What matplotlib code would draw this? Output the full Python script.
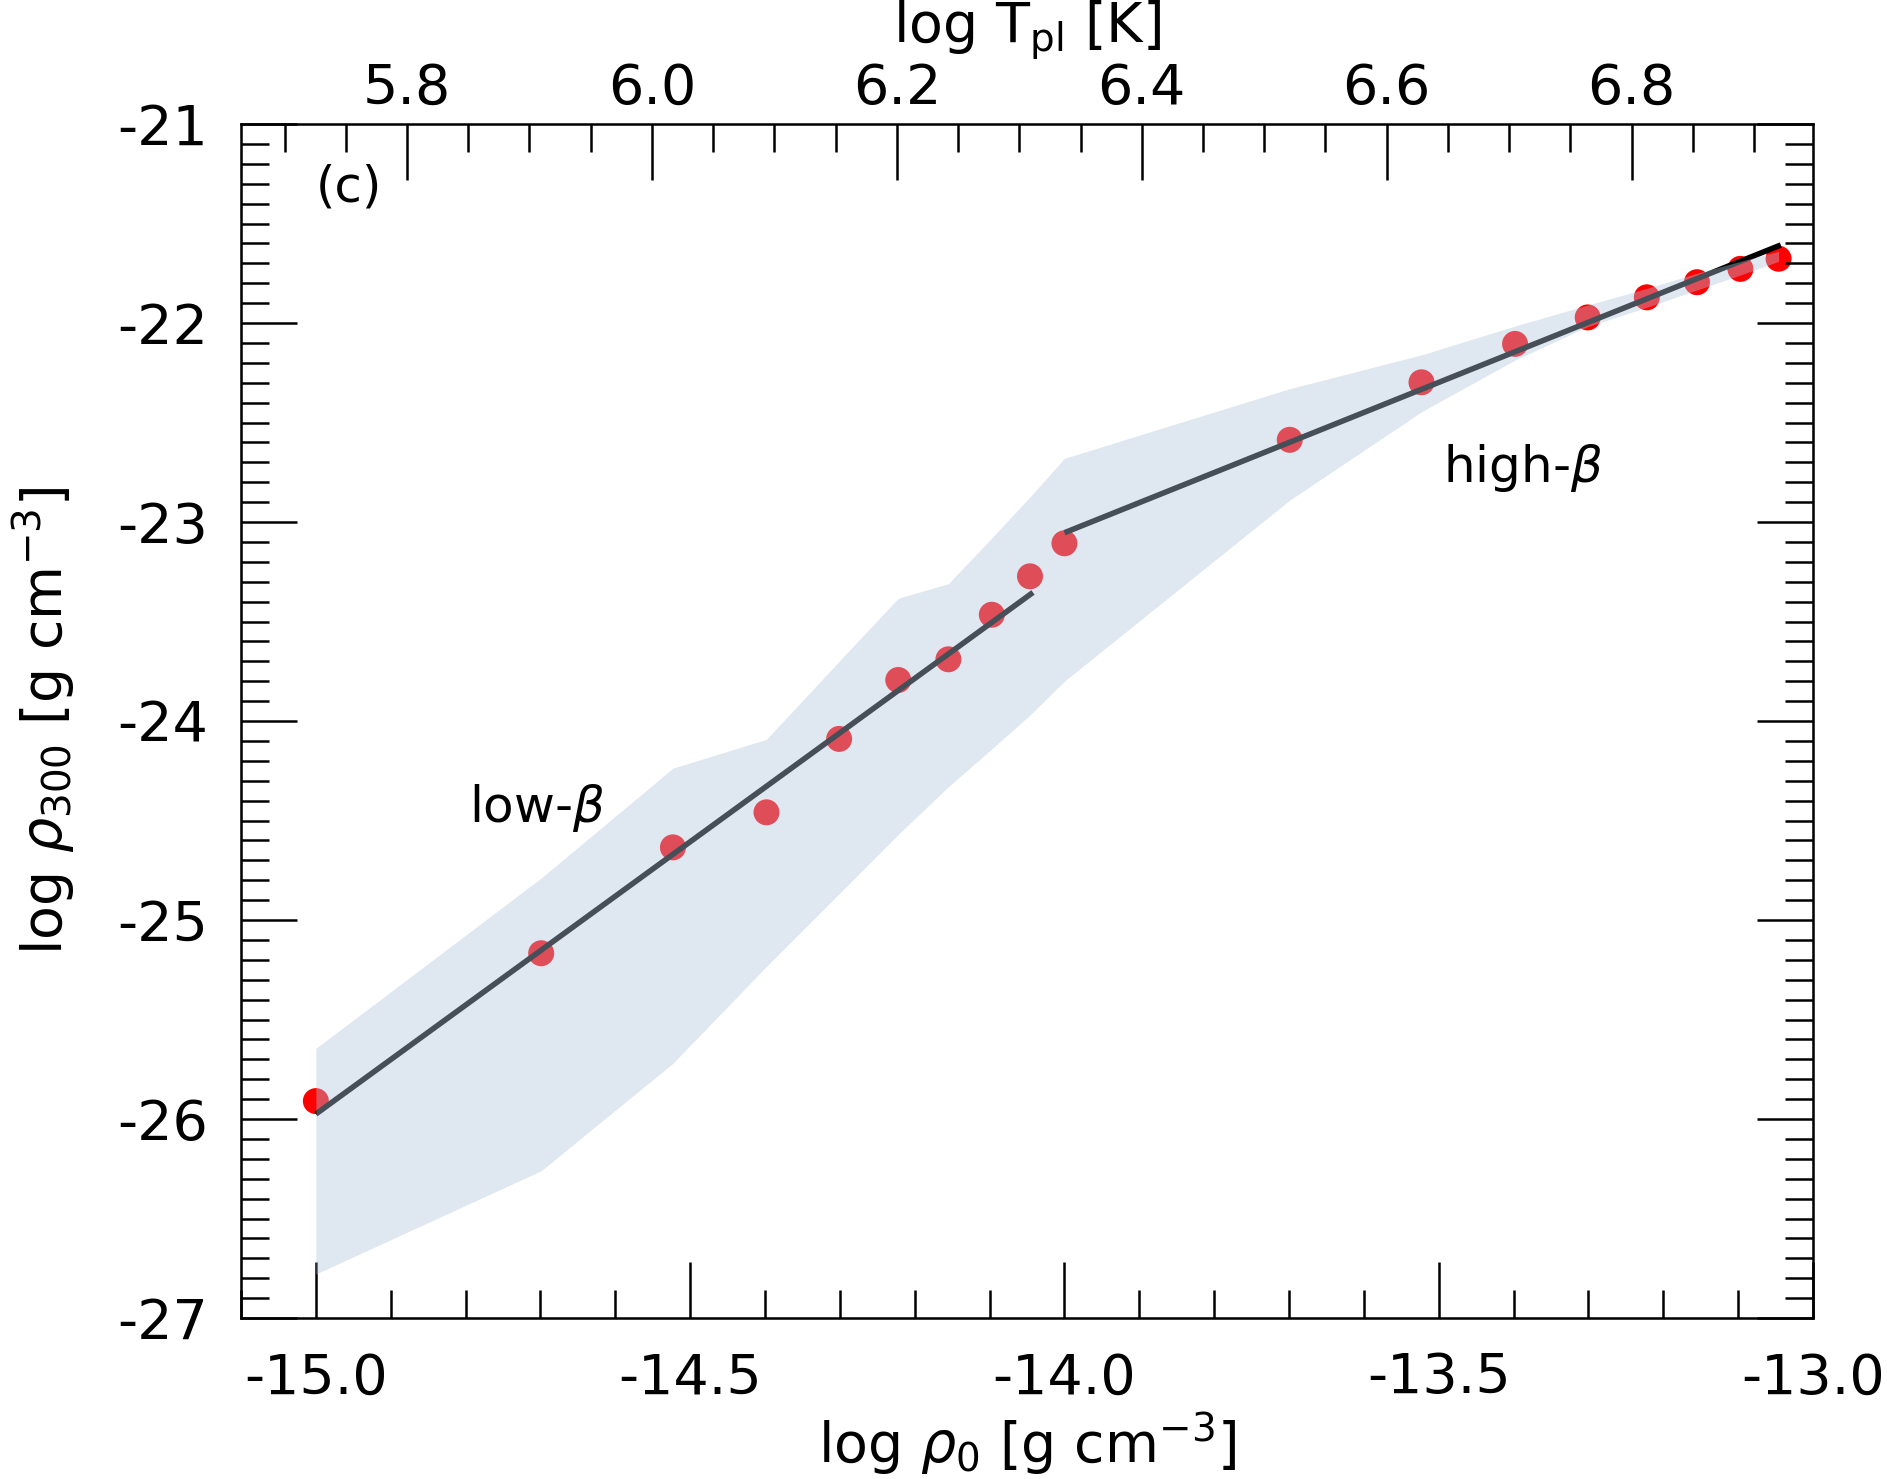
import matplotlib
matplotlib.use("Agg")
import matplotlib.pyplot as plt
from matplotlib.ticker import MultipleLocator, FormatStrFormatter

plt.rcParams['font.family'] = ['DejaVu Sans']
plt.rcParams['axes.unicode_minus'] = False
plt.rcParams['mathtext.default'] = 'it'

# ---- data ----
log_rho0 = [-15.0, -14.699, -14.523, -14.398, -14.301, -14.222, -14.155, -14.097, -14.046,
            -14.0, -13.699, -13.523, -13.398, -13.301, -13.222, -13.155, -13.097, -13.046]
log_rho300 = [-25.91, -25.167, -24.635, -24.459, -24.09, -23.794, -23.69, -23.466, -23.273,
              -23.107, -22.587, -22.298, -22.105, -21.972, -21.871, -21.795, -21.728, -21.677]
band_upper = [-25.645, -24.789, -24.237, -24.092, -23.70, -23.383, -23.31, -23.08, -22.874,
              -22.68, -22.33, -22.16, -22.015, -21.91, -21.826, -21.75, -21.69, -21.64]
band_lower = [-26.779, -26.26, -25.72, -25.233, -24.868, -24.57, -24.33, -24.14, -23.97,
              -23.80, -22.89, -22.446, -22.186, -22.018, -21.921, -21.834, -21.759, -21.69]

lowbeta_fit_x = [-15.0, -14.042]
lowbeta_fit_y = [-25.975, -23.354]
highbeta_fit_x = [-14.0, -13.043]
highbeta_fit_y = [-23.054, -21.608]

xlim = (-15.1, -13.0)
ylim = (-27.0, -21.0)
top_lim = (5.6644, 6.9482)

x_major = [-15.0, -14.5, -14.0, -13.5, -13.0]
y_major = [-27, -26, -25, -24, -23, -22, -21]
top_major = [5.8, 6.0, 6.2, 6.4, 6.6, 6.8]

# ---- figure ----
fig = plt.figure(figsize=(18.87, 14.79), dpi=100)
ax = fig.add_axes([241/1887, 1 - 1318/1479, (1813-241)/1887, (1318-124)/1479])

ax.scatter(log_rho0, log_rho300, s=350, color='red', edgecolors='none', zorder=1)
ax.plot(lowbeta_fit_x, lowbeta_fit_y, color='black', lw=4.0, zorder=2, solid_capstyle='butt')
ax.plot(highbeta_fit_x, highbeta_fit_y, color='black', lw=4.0, zorder=2, solid_capstyle='butt')
ax.fill_between(log_rho0, band_lower, band_upper, color='lightsteelblue', alpha=0.4,
                linewidth=0, zorder=3)

ax.set_xlim(*xlim)
ax.set_ylim(*ylim)

fs_tick = 40
fs_text = 36
lw_ax = 1.8

ax.set_xticks(x_major)
ax.xaxis.set_major_formatter(FormatStrFormatter('%.1f'))
ax.xaxis.set_minor_locator(MultipleLocator(0.1))
ax.set_yticks(y_major)
ax.yaxis.set_major_formatter(FormatStrFormatter('%d'))
ax.yaxis.set_minor_locator(MultipleLocator(0.1))

ax.tick_params(axis='x', which='both', direction='in', top=False, bottom=True,
               labelsize=fs_tick, width=lw_ax, pad=24)
ax.tick_params(axis='y', which='both', direction='in', left=True, right=True,
               labelsize=fs_tick, width=lw_ax, pad=24)
ax.tick_params(which='major', length=40)
ax.tick_params(which='minor', length=20)
for sp in ax.spines.values():
    sp.set_linewidth(lw_ax)

ax.set_xlabel(r'log $\rho_0$ [g cm$^{-3}$]', fontsize=fs_tick, labelpad=4)
ax.set_ylabel(r'log $\rho_{300}$ [g cm$^{-3}$]', fontsize=fs_tick, labelpad=28)

# top axis
axt = ax.twiny()
axt.set_xlim(*top_lim)
axt.set_xticks(top_major)
axt.xaxis.set_major_formatter(FormatStrFormatter('%.1f'))
axt.xaxis.set_minor_locator(MultipleLocator(0.05))
axt.tick_params(axis='x', which='both', direction='in', top=True, bottom=False,
                labelsize=fs_tick, width=lw_ax, pad=6)
axt.tick_params(which='major', length=40)
axt.tick_params(which='minor', length=20)
axt.set_xlabel(r'log T$_{\mathrm{pl}}$ [K]', fontsize=fs_tick, labelpad=14)

ax.text(-15.0, -21.32, '(c)', fontsize=fs_text, ha='left', va='center', zorder=5)
ax.text(-14.795, -24.506, r'low-$\beta$', fontsize=fs_text, ha='left', va='baseline', zorder=5)
ax.text(-13.494, -22.797, r'high-$\beta$', fontsize=fs_text, ha='left', va='baseline', zorder=5)

fig.savefig('out.png', dpi=100)
